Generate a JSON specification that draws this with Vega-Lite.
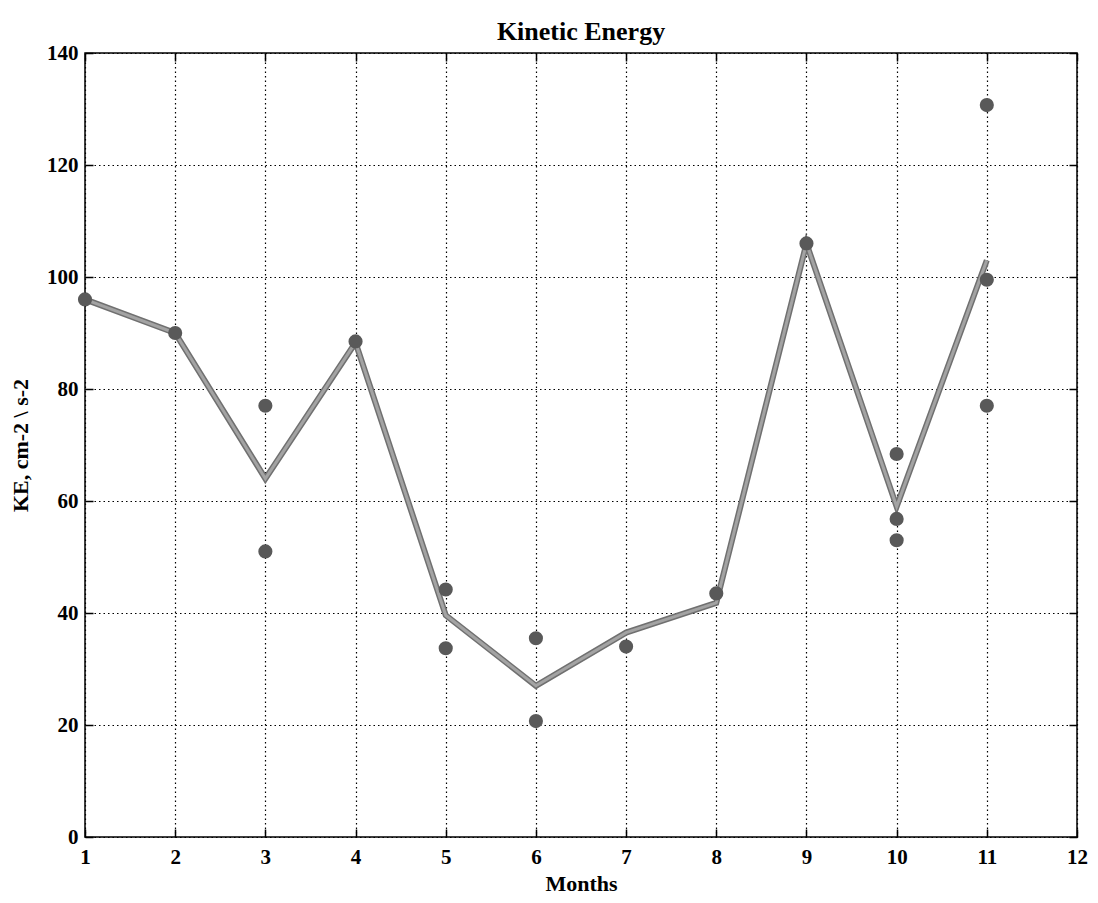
{
  "$schema": "https://vega.github.io/schema/vega-lite/v6.json",
  "autosize": "none",
  "width": 992,
  "height": 784,
  "padding": {"left": 85, "top": 53, "right": 21, "bottom": 66},
  "background": "white",
  "title": {"text": "Kinetic Energy", "font": "Liberation Serif", "fontSize": 26, "fontWeight": "bold", "color": "black", "offset": 12, "anchor": "middle", "baseline": "bottom", "dy": 41},
  "config": {
    "view": {"stroke": "black", "strokeWidth": 1.5},
    "axis": {"labelFont": "Liberation Serif", "labelFontSize": 21, "labelFontWeight": "bold", "labelColor": "black", "titleFont": "Liberation Serif", "titleFontSize": 22, "titleFontWeight": "bold", "titleColor": "black", "domainColor": "black", "tickColor": "black", "tickWidth": 1.5, "gridColor": "black", "gridDash": [1.5, 3], "gridWidth": 1.2, "gridOpacity": 1, "labelFlush": false}
  },
  "resolve": {"axis": {"x": "independent", "y": "independent"}},
  "datasets": {
    "pts": [
      {"month": 1, "ke": 96}, {"month": 2, "ke": 90},
      {"month": 3, "ke": 77}, {"month": 3, "ke": 51},
      {"month": 4, "ke": 88.5},
      {"month": 5, "ke": 44.2}, {"month": 5, "ke": 33.7},
      {"month": 6, "ke": 35.5}, {"month": 6, "ke": 20.7},
      {"month": 7, "ke": 34}, {"month": 8, "ke": 43.5}, {"month": 9, "ke": 106},
      {"month": 10, "ke": 68.4}, {"month": 10, "ke": 56.8}, {"month": 10, "ke": 53},
      {"month": 11, "ke": 130.7}, {"month": 11, "ke": 99.5}, {"month": 11, "ke": 77}
    ],
    "line": [
      {"month": 1, "ke": 96}, {"month": 2, "ke": 90}, {"month": 3, "ke": 64}, {"month": 4, "ke": 88.3},
      {"month": 5, "ke": 39.6}, {"month": 6, "ke": 27}, {"month": 7, "ke": 36.5}, {"month": 8, "ke": 41.8},
      {"month": 9, "ke": 106}, {"month": 10, "ke": 59}, {"month": 11, "ke": 103}
    ]
  },
  "layer": [
    {
      "data": {"name": "line"},
      "mark": {"type": "line", "color": "#707070", "strokeWidth": 6, "strokeJoin": "miter"},
      "encoding": {
        "x": {"field": "month", "type": "quantitative", "scale": {"domain": [1, 12], "nice": false},
          "axis": {"title": "Months", "values": [1,2,3,4,5,6,7,8,9,10,11,12], "format": "d", "tickSize": -8, "labelPadding": 17, "titlePadding": 6, "grid": true, "domain": false}},
        "y": {"field": "ke", "type": "quantitative", "scale": {"domain": [0, 140], "nice": false},
          "axis": {"title": "KE, cm-2 \\ s-2", "values": [0,20,40,60,80,100,120,140], "tickSize": -8, "labelPadding": 15, "titlePadding": 14, "grid": true, "domain": false}}
      }
    },
    {
      "data": {"name": "line"},
      "mark": {"type": "line", "color": "#a3a3a3", "strokeWidth": 3, "strokeJoin": "miter"},
      "encoding": {
        "x": {"field": "month", "type": "quantitative", "axis": null},
        "y": {"field": "ke", "type": "quantitative", "axis": null}
      }
    },
    {
      "data": {"name": "pts"},
      "mark": {"type": "point", "filled": true, "shape": "circle", "color": "#595959", "opacity": 1, "size": 200},
      "encoding": {
        "x": {"field": "month", "type": "quantitative",
          "axis": {"orient": "top", "title": null, "labels": false, "values": [1,2,3,4,5,6,7,8,9,10,11,12], "tickSize": -8, "grid": false, "domain": false}},
        "y": {"field": "ke", "type": "quantitative",
          "axis": {"orient": "right", "title": null, "labels": false, "values": [0,20,40,60,80,100,120,140], "tickSize": -8, "grid": false, "domain": false}}
      }
    }
  ]
}
